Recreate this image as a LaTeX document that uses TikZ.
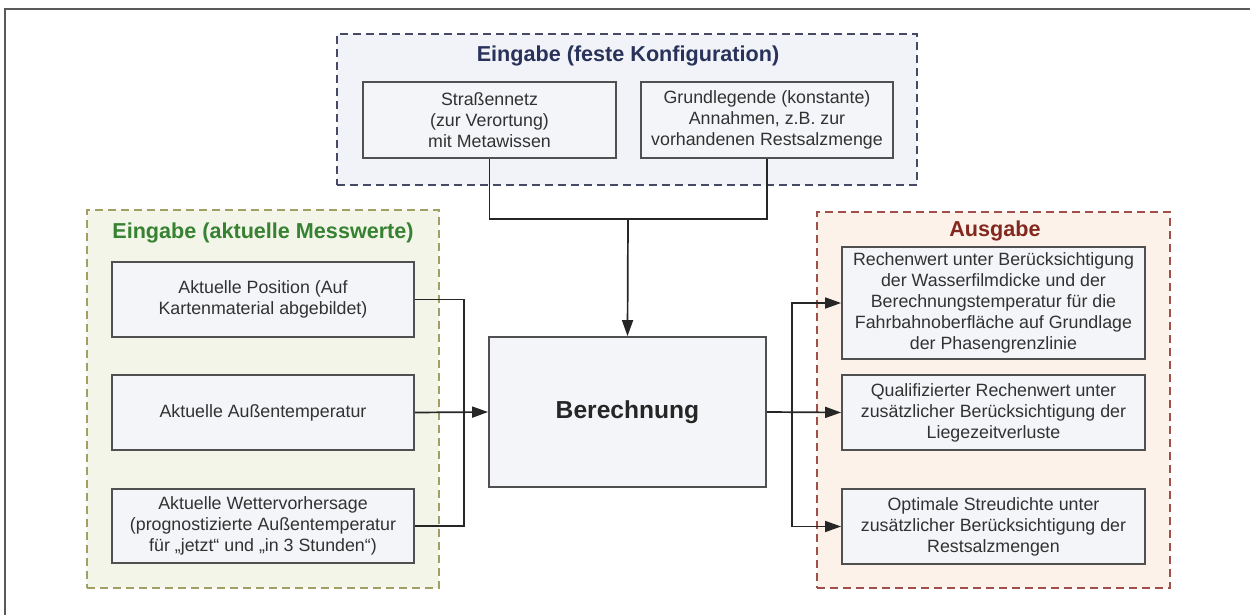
\documentclass[tikz,border=0pt]{standalone}
\usepackage{fontspec}
\setmainfont{Liberation Sans}
\usepackage{tikz}
\usetikzlibrary{arrows.meta}
\definecolor{topfill}{RGB}{241,243,248}
\definecolor{topline}{RGB}{70,74,100}
\definecolor{toptitle}{RGB}{40,50,90}
\definecolor{leftfill}{RGB}{243,245,232}
\definecolor{leftline}{RGB}{160,160,100}
\definecolor{lefttitle}{RGB}{55,130,50}
\definecolor{rightfill}{RGB}{253,242,234}
\definecolor{rightline}{RGB}{160,80,72}
\definecolor{righttitle}{RGB}{130,40,30}
\definecolor{boxfill}{RGB}{244,245,248}
\definecolor{boxline}{RGB}{80,80,80}
\definecolor{textcol}{RGB}{50,50,50}

\begin{document}
\begin{tikzpicture}[line cap=butt,line join=miter,x=0.5pt,y=-0.5pt,
    >={Triangle[length=8pt,width=5.5pt]},
    group/.style={draw,dashed,dash pattern=on 4pt off 2.5pt,line width=1pt,inner sep=0pt},
    grouptitle/.style={font=\fontsize{10.8}{12}\selectfont\bfseries},
    itembox/.style={draw=boxline,fill=boxfill,line width=0.9pt,inner sep=0pt,align=center,
        text=textcol,font=\fontsize{8.9}{10.5}\selectfont},
    link/.style={line width=0.85pt,draw=black!85}]
    \useasboundingbox (0,0) rectangle (1250,615);
    % frame
    \draw [line width=1.4pt,color=black!65] (5,615)-- (5,9)-- (1250,9);
    % groups
    \node [group,draw=topline,fill=topfill,minimum width=290pt,minimum height=75.5pt] (gtop) at (627,109.5) {};
    \node [grouptitle,text=toptitle] (ttop) at (628,56) {Eingabe (feste Konfiguration)};
    \node [group,draw=leftline,fill=leftfill,minimum width=176pt,minimum height=189pt] (gleft) at (263,399) {};
    \node [grouptitle,text=lefttitle] (tleft) at (263,233) {Eingabe (aktuelle Messwerte)};
    \node [group,draw=rightline,fill=rightfill,minimum width=176.5pt,minimum height=188pt] (gright) at (993.5,400) {};
    \node [grouptitle,text=righttitle] (tright) at (995,231) {Ausgabe};
    % fixed input
    \node [itembox,minimum width=126.5pt,minimum height=38pt] (netz) at (489.5,120) {Straßennetz\\(zur Verortung)\\mit Metawissen};
    \node [itembox,minimum width=126pt,minimum height=38pt] (annahme) at (767,120) {Grundlegende (konstante)\\Annahmen, z.B. zur\\vorhandenen Restsalzmenge};
    % measured input
    \node [itembox,minimum width=151pt,minimum height=37.5pt] (position) at (263,299.5) {Aktuelle Position (Auf\\Kartenmaterial abgebildet)};
    \node [itembox,minimum width=151pt,minimum height=37.5pt] (temp) at (263,412.5) {Aktuelle Außentemperatur};
    \node [itembox,minimum width=151pt,minimum height=37pt] (wetter) at (263,526) {Aktuelle Wettervorhersage\\(prognostizierte Außentemperatur\\für „jetzt“ und „in 3 Stunden“)};
    % calculation
    \node [itembox,minimum width=138.5pt,minimum height=75pt,text=black!85,font=\fontsize{12.3}{14}\selectfont\bfseries] (calc) at (627.5,412) {Berechnung};
    % output
    \node [itembox,minimum width=151.5pt,minimum height=56pt] (rechenwert) at (993.5,303) {Rechenwert unter Berücksichtigung\\der Wasserfilmdicke und der\\Berechnungstemperatur für die\\Fahrbahnoberfläche auf Grundlage\\der Phasengrenzlinie};
    \node [itembox,minimum width=151.5pt,minimum height=37.5pt] (qualwert) at (993.5,412.5) {Qualifizierter Rechenwert unter\\zusätzlicher Berücksichtigung der\\Liegezeitverluste};
    \node [itembox,minimum width=151.5pt,minimum height=37.5pt] (streu) at (993.5,526.5) {Optimale Streudichte unter\\zusätzlicher Berücksichtigung der\\Restsalzmengen};
    % connectors
    \coordinate (jtop) at (628,219);
    \coordinate (jleft) at (464,412.5);
    \coordinate (jright) at (792,412.5);
    \draw [link] (netz.south) |- (jtop) -| (annahme.south);
    \draw [link,->] (jtop) -- (calc.north);
    \draw [link] (position.east) -| (jleft) |- (wetter.east);
    \draw [link,->] (temp.east) -- (calc.west);
    \draw [link,->] (calc.east) -- (qualwert.west);
    \draw [link,<->] (rechenwert.west) -| (jright) |- (streu.west);
\end{tikzpicture}
\end{document}
